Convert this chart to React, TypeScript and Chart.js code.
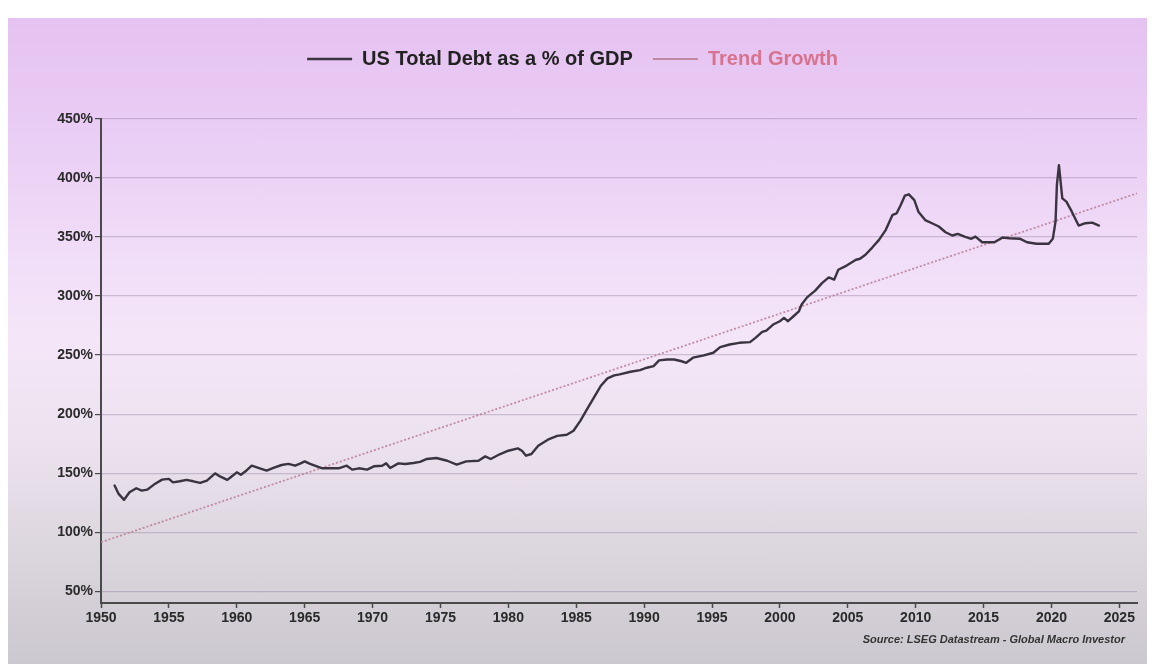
import React, { useEffect, useRef } from "react";
import { Chart, registerables } from "chart.js";

Chart.register(...registerables);

const debtYears: number[] = [
  1951.0, 1951.3, 1951.7, 1952.1, 1952.6, 1953.0, 1953.4, 1953.9, 1954.5, 1955.0,
  1955.3, 1955.8, 1956.3, 1956.8, 1957.3, 1957.8, 1958.4, 1958.8, 1959.3, 1959.6,
  1960.0, 1960.3, 1960.7, 1961.1, 1961.7, 1962.2, 1962.7, 1963.3, 1963.8, 1964.3,
  1964.7, 1965.0, 1965.4, 1965.9, 1966.3, 1966.9, 1967.5, 1968.1, 1968.5, 1969.0,
  1969.6, 1970.1, 1970.7, 1971.0, 1971.3, 1971.9, 1972.4, 1973.0, 1973.5, 1974.0,
  1974.7, 1975.5, 1976.2, 1976.9, 1977.8, 1978.3, 1978.7, 1979.4, 1980.0, 1980.7,
  1981.0, 1981.3, 1981.7, 1982.2, 1983.0, 1983.6, 1984.3, 1984.8, 1985.3, 1985.8,
  1986.3, 1986.8, 1987.3, 1987.8, 1988.2, 1989.0, 1989.7, 1990.2, 1990.7, 1991.1,
  1991.7, 1992.2, 1992.7, 1993.1, 1993.6, 1994.4, 1995.1, 1995.6, 1996.3, 1997.0,
  1997.8, 1998.2, 1998.7, 1999.0, 1999.5, 2000.0, 2000.3, 2000.6, 2001.0, 2001.4,
  2001.6, 2002.0, 2002.6, 2003.1, 2003.6, 2004.0, 2004.3, 2004.8, 2005.6, 2005.9,
  2006.3, 2006.8, 2007.3, 2007.8, 2008.3, 2008.6, 2008.9, 2009.2, 2009.5, 2009.9,
  2010.2, 2010.7, 2011.2, 2011.7, 2012.2, 2012.7, 2013.1, 2013.6, 2014.1, 2014.4,
  2014.9, 2015.8, 2016.4, 2016.9, 2017.7, 2018.2, 2018.9, 2019.8, 2020.1, 2020.3,
  2020.4, 2020.55, 2020.7, 2020.8, 2021.1, 2021.5, 2022.0, 2022.5, 2023.0, 2023.5,
];

const debtValues: number[] = [
  139.5, 132.4, 127.4, 133.8, 137.2, 135.2, 136.0, 140.3, 144.5, 145.1,
  142.2, 143.1, 144.3, 143.1, 141.7, 143.7, 149.8, 147.0, 144.3, 147.0,
  150.7, 148.7, 152.1, 156.3, 154.0, 152.1, 154.4, 156.9, 157.8, 156.3,
  158.3, 160.0, 157.8, 155.8, 154.1, 154.1, 154.1, 156.3, 153.0, 154.1,
  153.0, 155.8, 156.3, 158.3, 154.4, 158.3, 157.8, 158.6, 159.6, 162.0,
  162.8, 160.5, 157.2, 160.0, 160.5, 164.2, 162.0, 166.2, 169.0, 171.0,
  169.0, 164.8, 166.2, 173.2, 178.9, 181.6, 182.5, 185.9, 194.3, 204.2,
  214.0, 223.8, 230.3, 232.8, 233.7, 235.9, 237.3, 239.3, 240.7, 245.5,
  246.3, 246.3, 245.0, 243.5, 247.8, 249.8, 252.0, 256.8, 259.0, 260.4,
  261.0, 264.6, 269.7, 270.8, 275.9, 278.7, 281.5, 278.7, 282.9, 287.1,
  292.8, 298.9, 304.6, 311.0, 315.8, 313.9, 322.3, 325.1, 330.8, 331.6,
  335.0, 341.1, 347.6, 356.1, 368.8, 370.1, 377.2, 385.0, 386.2, 381.3,
  371.5, 364.4, 361.7, 358.9, 354.1, 351.3, 352.7, 350.4, 348.5, 350.4,
  345.6, 345.6, 349.6, 349.0, 348.5, 345.6, 344.3, 344.3, 348.5, 363.1,
  394.0, 410.9, 394.0, 382.8, 380.0, 371.5, 359.7, 361.7, 362.2, 359.7,
];

const trendYears: number[] = [1950, 2026.3];
const trendValues: number[] = [91.5, 387];

const xTickYears: number[] = [1950, 1955, 1960, 1965, 1970, 1975, 1980, 1985, 1990, 1995, 2000, 2005, 2010, 2015, 2020, 2025];
const yTickValues: number[] = [50, 100, 150, 200, 250, 300, 350, 400, 450];

const seriesNames = ["US Total Debt as a % of GDP", "Trend Growth"];
const legendColors = ["#222222", "#d8738f"];
const sourceText = "Source: LSEG Datastream - Global Macro Investor";

const FONT = '"Liberation Sans", Arial, sans-serif';

export default function App() {
  const canvasRef = useRef<HTMLCanvasElement | null>(null);

  useEffect(() => {
    if (!canvasRef.current) return;

    const sourcePlugin = {
      id: "sourceNote",
      afterDraw(chart: any) {
        const ctx = chart.ctx;
        ctx.save();
        ctx.font = `italic bold 11px ${FONT}`;
        ctx.fillStyle = "#333333";
        ctx.textAlign = "right";
        ctx.textBaseline = "middle";
        ctx.fillText(sourceText, chart.chartArea.right - 12, chart.chartArea.bottom + 37);
        ctx.restore();
      },
    };

    const chart = new Chart(canvasRef.current, {
      type: "line",
      data: {
        datasets: [
          {
            label: seriesNames[0],
            data: debtYears.map((x, i) => ({ x, y: debtValues[i] })),
            borderColor: "#3a3340",
            backgroundColor: "#3a3340",
            borderWidth: 2.4,
            borderJoinStyle: "round",
            borderCapStyle: "round",
            pointRadius: 0,
            tension: 0,
          },
          {
            label: seriesNames[1],
            data: trendYears.map((x, i) => ({ x, y: trendValues[i] })),
            borderColor: "rgba(185,125,150,0.85)",
            backgroundColor: "rgba(185,125,150,0.85)",
            borderWidth: 1.8,
            borderDash: [2, 2],
            pointRadius: 0,
          },
        ],
      },
      options: {
        animation: false,
        responsive: true,
        maintainAspectRatio: false,
        layout: { padding: { top: 11, right: 10, bottom: 28, left: 0 } },
        plugins: {
          tooltip: { enabled: false },
          title: {
            display: true,
            text: "",
            weight: 500,
            font: { size: 10 },
            padding: { top: 28, bottom: 0 },
          },
          legend: {
            display: true,
            position: "top",
            labels: {
              usePointStyle: true,
              pointStyle: "line",
              pointStyleWidth: 45,
              padding: 20,
              font: { family: FONT, size: 20, weight: "bold" },
              generateLabels: (ch: any) => {
                const items = Chart.defaults.plugins.legend.labels.generateLabels(ch);
                return items.map((it: any, i: number) => ({
                  ...it,
                  fontColor: legendColors[i],
                  pointStyle: "line",
                  lineWidth: i === 0 ? 2.6 : 1.8,
                }));
              },
            },
          },
        },
        scales: {
          x: {
            type: "linear",
            min: 1950,
            max: 2026.3,
            afterFit: (s: any) => {
              s.height = 33;
            },
            afterBuildTicks: (s: any) => {
              s.ticks = xTickYears.map((v) => ({ value: v }));
            },
            ticks: {
              callback: (v: any) => String(v),
              color: "#2a2a2a",
              padding: 2,
              maxRotation: 0,
              autoSkip: false,
              font: { family: FONT, size: 14, weight: "bold" },
            },
            grid: {
              drawOnChartArea: false,
              drawTicks: true,
              tickLength: 5,
              tickColor: "#4a4a4a",
              tickWidth: 1.5,
            },
            border: { display: true, color: "#4a4a4a", width: 2 },
          },
          y: {
            type: "linear",
            min: 40,
            max: 450,
            afterFit: (s: any) => {
              s.width = 93;
            },
            afterBuildTicks: (s: any) => {
              s.ticks = yTickValues.map((v) => ({ value: v }));
            },
            ticks: {
              callback: (v: any) => `${v}%`,
              color: "#2a2a2a",
              padding: 2,
              font: { family: FONT, size: 14, weight: "bold" },
            },
            grid: {
              drawOnChartArea: true,
              drawTicks: true,
              tickLength: 6,
              color: "rgba(125,100,140,0.32)",
              tickColor: "#4a4a4a",
              lineWidth: 1.2,
            },
            border: { display: true, color: "#4a4a4a", width: 2 },
          },
        },
      },
      plugins: [sourcePlugin],
    });

    return () => {
      chart.destroy();
    };
  }, []);

  return (
    <div
      style={{
        position: "fixed",
        left: 8,
        top: 18,
        width: 1139,
        height: 646,
        background:
          "linear-gradient(180deg, #e5c2f1 0%, #e9cbf4 15%, #f1def8 38%, #f4e6f8 50%, #ece2ee 66%, #dcd6de 82%, #ccc8cf 100%)",
      }}
    >
      <canvas ref={canvasRef} />
    </div>
  );
}
